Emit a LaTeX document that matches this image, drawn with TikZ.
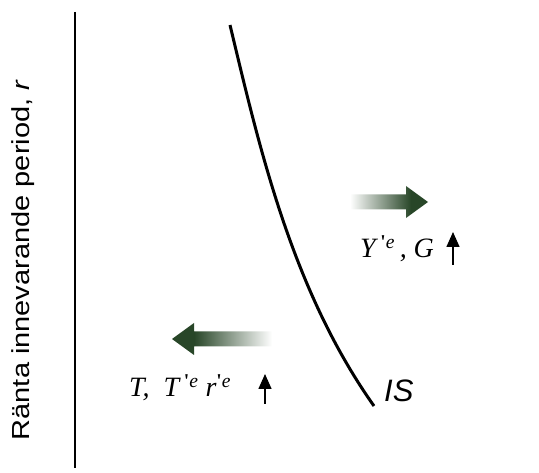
\documentclass[tikz,border=0pt]{standalone}
\usepackage{fontspec}
\setmainfont{Liberation Serif}
\setsansfont{Liberation Sans}
\usetikzlibrary{arrows.meta}
\definecolor{shiftgreen}{RGB}{40,70,40}
% fade from the head (left end) to a white tail
\pgfdeclarehorizontalshading{headfade}{100bp}{color(0bp)=(shiftgreen); color(36bp)=(shiftgreen);
  color(75bp)=(white); color(100bp)=(white)}

\begin{document}
\begin{tikzpicture}[x=1pt, y=-1pt,
    axis line/.style={line width=2.5pt},
    is curve/.style={line width=3pt},
    shift arrow/.style={shading=headfade, draw=none},
    math label/.style={inner sep=0pt, anchor=base west, font=\fontsize{28}{32}\selectfont\itshape},
    up mark/.style={line width=1.5pt, -{Triangle[length=15pt, width=13pt]}}]
  \useasboundingbox (0,0) rectangle (539,473);

  % axis and its label
  \coordinate (axtop) at (75,12);
  \coordinate (axbot) at (75,468);
  \draw[axis line] (axtop) -- (axbot);
  \node[rotate=90, anchor=base, inner sep=0pt, font=\sffamily\fontsize{29}{32}\selectfont]
    (rlabel) at (30,260) {\scalebox{1}[0.85]{Ränta innevarande period, \textit{r}}};

  % IS curve
  \coordinate (istop) at (230,25);
  \coordinate (isbot) at (374,406);
  \draw[is curve] (istop) .. controls (260,150) and (292,290) .. (isbot);
  \node[anchor=base west, inner sep=0pt, font=\sffamily\itshape\fontsize{31}{36}\selectfont]
    (islabel) at (384,402) {IS};

  % shifts of the curve
  \shade[shift arrow, shading angle=180]
    (350,194.5) -- (406,194.5) -- (406,186) -- (428,202) -- (406,218) -- (406,209.5) -- (350,209.5) -- cycle;
  \shade[shift arrow]
    (272,331.5) -- (194,331.5) -- (194,323) -- (172,339) -- (194,355) -- (194,346.5) -- (272,346.5) -- cycle;

  \node[math label] (ylabel) at (360,258)
    {Y\,\textsuperscript{\upshape\bfseries\textquotesingle\mdseries\itshape e}\,, G};
  \node[math label] (tlabel) at (129,397)
    {T, \ T\,\textsuperscript{\upshape\bfseries\textquotesingle\mdseries\itshape e} r\textsuperscript{\upshape\bfseries\textquotesingle\mdseries\itshape e}};

  \coordinate (yfoot) at (453,265);
  \coordinate (yhead) at (453,232);
  \coordinate (tfoot) at (265,404);
  \coordinate (thead) at (265,374);
  \draw[up mark] (yfoot) -- (yhead);
  \draw[up mark] (tfoot) -- (thead);
\end{tikzpicture}
\end{document}
